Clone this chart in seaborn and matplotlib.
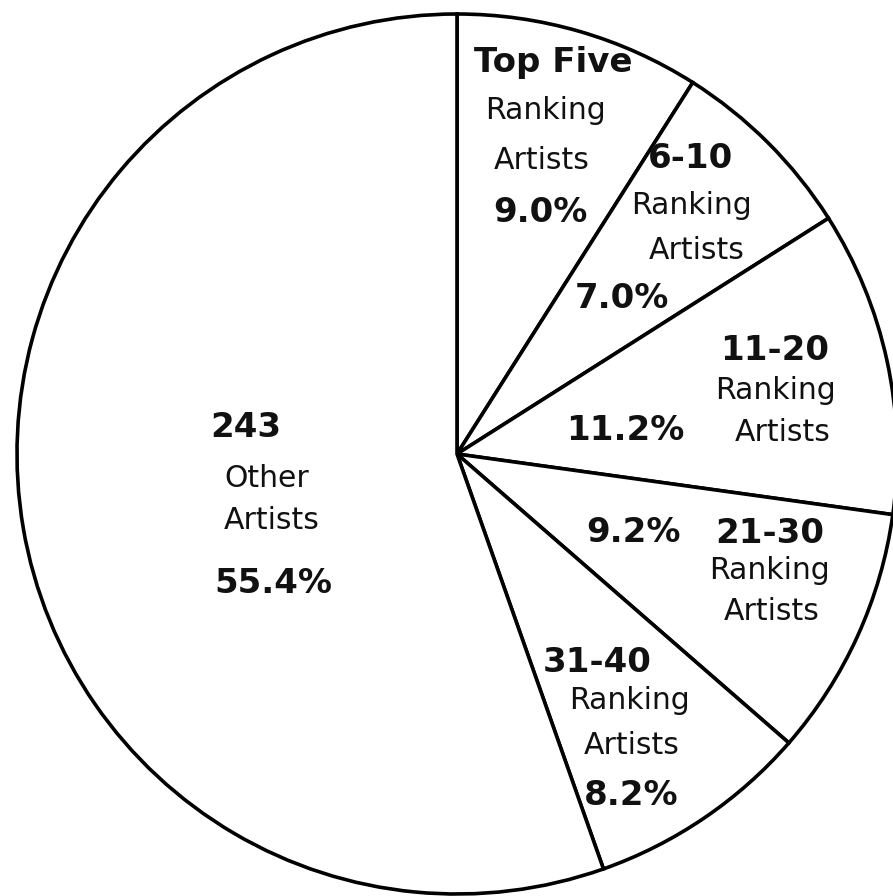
import matplotlib
matplotlib.use("Agg")
import matplotlib.pyplot as plt
import seaborn as sns

# Share of total by artist ranking group, clockwise from 12 o'clock
groups = ["Top Five", "6-10", "11-20", "21-30", "31-40", "243"]
subtitles = [["Ranking", "Artists"], ["Ranking", "Artists"], ["Ranking", "Artists"],
             ["Ranking", "Artists"], ["Ranking", "Artists"], ["Other", "Artists"]]
shares = [9.0, 7.0, 11.2, 9.2, 8.2, 55.4]

sns.set_theme(style="white")
plt.rcParams["font.family"] = ["DejaVu Sans"]

W, H = 893, 896
fig = plt.figure(figsize=(W / 100, H / 100), dpi=100)
ax = fig.add_axes([0, 0, 1, 1])

cx, cy, r = 457, H - 454, 440
ax.pie(shares, startangle=90, counterclock=False, center=(cx, cy), radius=r,
       colors=["white"] * len(shares),
       wedgeprops=dict(edgecolor="black", linewidth=2.6))
ax.set_xlim(0, W)
ax.set_ylim(0, H)
ax.set_aspect("equal")
ax.axis("off")

BOLD = 24.5
REG = 21.5

def put(x, y, s, bold=False):
    ax.text(x, H - y, s, ha="center", va="center",
            fontsize=BOLD if bold else REG,
            fontweight="bold" if bold else "normal", color="#111111")

pct = [f"{v:.1f}%" for v in shares]

# label layout: (group pos, subtitle line positions, percent pos)
layout = [
    ((553, 62), [(545, 110), (542, 160)], (540, 212)),
    ((690, 158), [(692, 205), (697, 250)], (622, 298)),
    ((775, 350), [(775, 390), (783, 432)], (625, 430)),
    ((770, 533), [(770, 570), (772, 611)], (633, 532)),
    ((597, 662), [(630, 700), (632, 745)], (631, 795)),
    ((246, 427), [(267, 478), (272, 520)], (273, 583)),
]

for g, subs, p, (gpos, spos, ppos) in zip(groups, subtitles, pct, layout):
    put(*gpos, g, bold=True)
    for s, pos in zip(subs, spos):
        put(*pos, s)
    put(*ppos, p, bold=True)

fig.savefig("out.png", dpi=100, facecolor="white")
